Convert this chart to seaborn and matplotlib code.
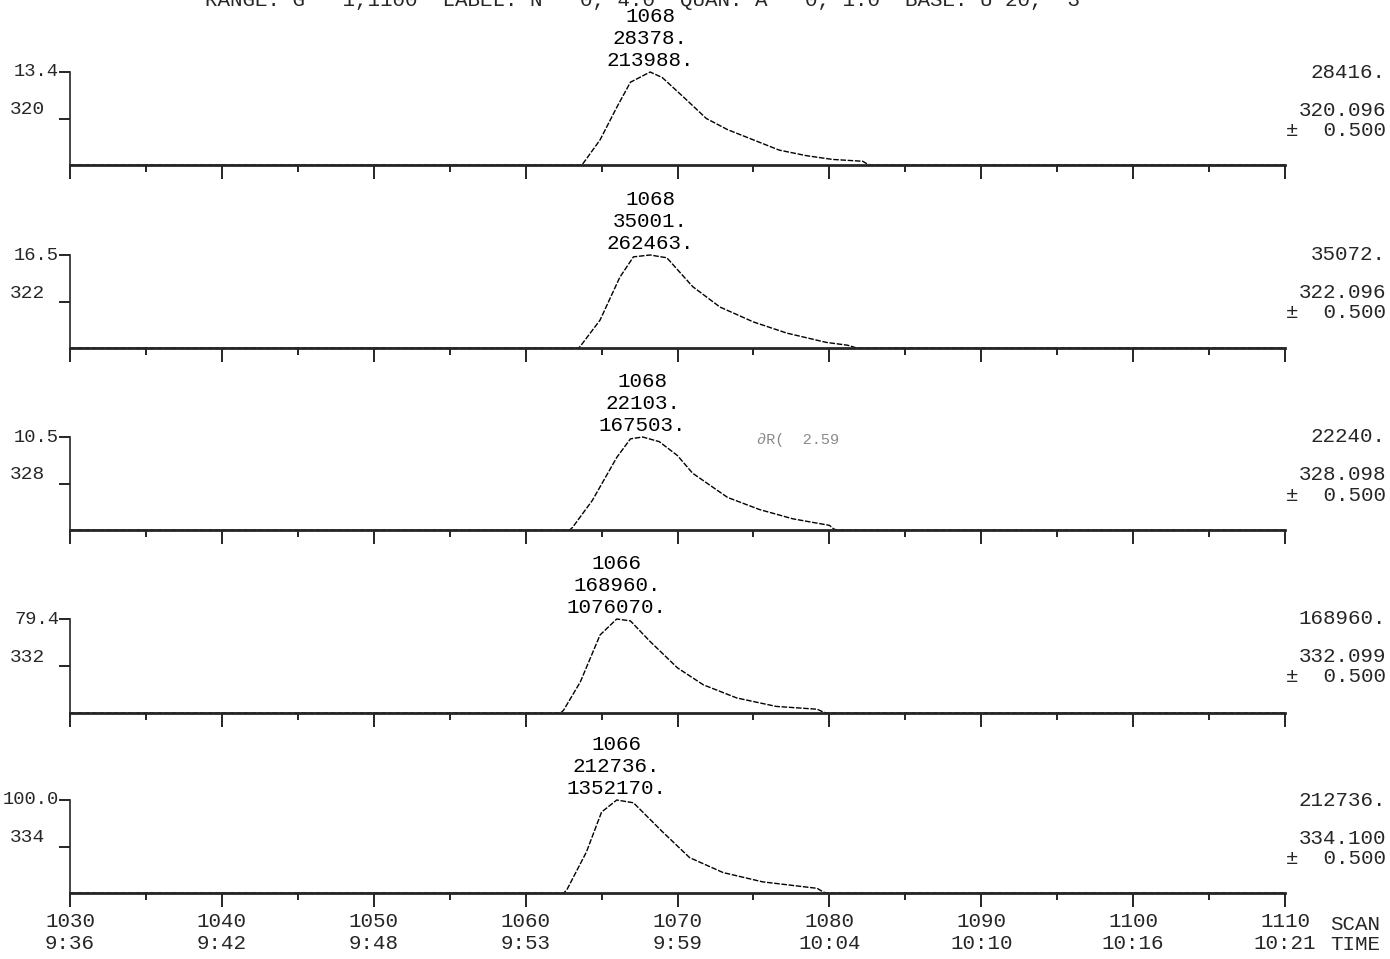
import numpy as np
import pandas as pd
import matplotlib
matplotlib.use("Agg")
import matplotlib.pyplot as plt
from matplotlib.ticker import MultipleLocator, FixedLocator
import seaborn as sns

# ---------------- data ----------------
masses = ["320", "322", "328", "332", "334"]
full_scale = ["13.4", "16.5", "10.5", "79.4", "100.0"]
right_max = ["28416.", "35072.", "22240.", "168960.", "212736."]
right_mass = ["320.096", "322.096", "328.098", "332.099", "334.100"]
peak_scan_lbl = ["1068", "1068", "1068", "1066", "1066"]
peak_height_lbl = ["28378.", "35001.", "22103.", "168960.", "212736."]
peak_area_lbl = ["213988.", "262463.", "167503.", "1076070.", "1352170."]

p1_scan = [1030, 1063.6, 1063.8, 1064.9, 1066.0, 1066.9, 1068.2, 1069.0, 1070.4, 1071.9, 1073.3, 1075.0, 1076.7, 1078.5, 1080.2, 1082.2, 1082.5, 1082.7, 1110]
p1_int = [0, 0, 2, 27, 62, 89, 100, 94, 73, 50, 38, 27, 16, 10, 6, 4, 1, 0, 0]
p2_scan = [1030, 1063.5, 1063.7, 1064.9, 1066.2, 1067.1, 1068.2, 1069.3, 1071.0, 1072.8, 1075.0, 1077.2, 1079.8, 1081.2, 1081.6, 1081.8, 1110]
p2_int = [0, 0, 4, 30, 76, 98, 100, 97, 66, 44, 28, 16, 6, 3, 1, 0, 0]
p3_scan = [1030, 1062.9, 1063.1, 1064.4, 1066.0, 1066.9, 1067.7, 1068.8, 1070.0, 1071.0, 1073.3, 1075.4, 1077.6, 1080.0, 1080.3, 1080.5, 1110]
p3_int = [0, 0, 3, 32, 78, 98, 100, 95, 80, 61, 35, 22, 12, 5, 1, 0, 0]
p4_scan = [1030, 1062.3, 1062.5, 1063.6, 1064.9, 1066.0, 1066.9, 1068.2, 1070.0, 1071.7, 1073.9, 1076.5, 1079.2, 1079.6, 1079.8, 1110]
p4_int = [0, 0, 3, 33, 83, 100, 98, 76, 48, 30, 16, 7, 4, 1, 0, 0]
p5_scan = [1030, 1062.5, 1062.7, 1064.0, 1065.0, 1066.0, 1067.1, 1069.0, 1070.8, 1073.0, 1075.6, 1079.2, 1079.6, 1079.8, 1110]
p5_int = [0, 0, 3, 44, 87, 100, 97, 66, 38, 22, 12, 5, 1, 0, 0]

scan_ticks = [1030, 1040, 1050, 1060, 1070, 1080, 1090, 1100, 1110]
time_ticks = ["9:36", "9:42", "9:48", "9:53", "9:59", "10:04", "10:10", "10:16", "10:21"]

series = [(p1_scan, p1_int), (p2_scan, p2_int), (p3_scan, p3_int),
          (p4_scan, p4_int), (p5_scan, p5_int)]

# ---------------- style ----------------
sns.set_style("ticks")
plt.rcParams["font.family"] = ["Liberation Mono", "DejaVu Sans Mono"]
FS = 15

W, H = 1390, 959
fig = plt.figure(figsize=(W / 100, H / 100), dpi=100)

def fx(px):
    return px / W

def fy(py):
    return 1 - py / H

baselines = [165, 348, 530, 713, 893]
tops = [72, 255, 437, 619, 800]
x_left, x_right = 70, 1285

for i, ((sc, it), yb, yt) in enumerate(zip(series, baselines, tops)):
    ax = fig.add_axes([fx(x_left), fy(yb), fx(x_right - x_left), (yb - yt) / H])
    df = pd.DataFrame({"scan": sc, "intensity": it})
    sns.lineplot(data=df, x="scan", y="intensity", ax=ax, color="black",
                 linewidth=1.0, sort=False, estimator=None, clip_on=False,
                 dashes=False)
    ax.lines[-1].set_linestyle((0, (4, 1.2)))
    ax.set_xlim(1030, 1110)
    ax.set_ylim(0, 100)
    ax.set_xlabel("")
    ax.set_ylabel("")
    for s in ["top", "right"]:
        ax.spines[s].set_visible(False)
    ax.spines["bottom"].set_linewidth(2.0)
    ax.spines["left"].set_linewidth(1.2)
    ax.xaxis.set_major_locator(MultipleLocator(10))
    ax.xaxis.set_minor_locator(MultipleLocator(5))
    ax.tick_params(axis="x", which="major", direction="out", length=10, width=1.2, color="black")
    ax.tick_params(axis="x", which="minor", direction="out", length=5, width=1.2, color="black")
    ax.yaxis.set_major_locator(FixedLocator([50, 100]))
    ax.yaxis.set_minor_locator(FixedLocator([]))
    ax.tick_params(axis="y", which="major", direction="out", length=8, width=1.2, color="black",
                   labelleft=False)
    if i == len(series) - 1:
        ax.set_xticks(scan_ticks)
        ax.set_xticklabels([f"{s}\n{t}" for s, t in zip(scan_ticks, time_ticks)],
                           fontsize=FS, linespacing=1.15)
        ax.tick_params(axis="x", which="major", pad=4)
    else:
        ax.tick_params(axis="x", labelbottom=False)

    # peak annotations
    apex = sc[int(np.argmax(it))]
    for txt, off in zip([peak_area_lbl[i], peak_height_lbl[i], peak_scan_lbl[i]], [4, 20, 36]):
        ax.annotate(txt, xy=(apex, 100), xytext=(0, off), textcoords="offset points",
                    ha="center", va="baseline", fontsize=FS, color="black",
                    annotation_clip=False)

    # left labels
    fig.text(fx(59), fy(yt), full_scale[i], ha="right", va="center", fontsize=FS - 1.5)
    fig.text(fx(10), fy(yt + 38), masses[i], ha="left", va="center", fontsize=FS - 1)
    # right labels
    fig.text(fx(1386), fy(yt), right_max[i], ha="right", va="center", fontsize=FS)
    fig.text(fx(1386), fy(yt + 38), right_mass[i], ha="right", va="center", fontsize=FS)
    fig.text(fx(1386), fy(yt + 58), "\u00b1  0.500", ha="right", va="center", fontsize=FS)

# axis titles for the bottom panel
fig.text(fx(1330), fy(924), "SCAN", ha="left", va="center", fontsize=FS)
fig.text(fx(1330), fy(945), "TIME", ha="left", va="center", fontsize=FS)

# header line (cut off at the top of the sheet, as in the original print)
fig.text(fx(205), fy(0), "RANGE: G   1,1100  LABEL: N   0, 4.0  QUAN: A   0, 1.0  BASE: U 20,  3",
         ha="left", va="center", fontsize=FS)

# faint hand-written note in panel 3
fig.text(fx(757), fy(440), "\u2202R(  2.59", ha="left", va="center", fontsize=11, color="#8a8a8a")

fig.savefig("out.png", dpi=100)
